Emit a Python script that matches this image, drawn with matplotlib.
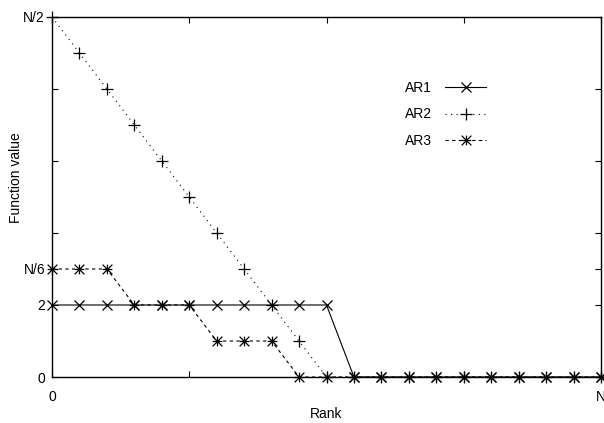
import matplotlib
matplotlib.use("Agg")
import matplotlib.pyplot as plt
from matplotlib.path import Path

# ── Data ──────────────────────────────────────────────────────────────────────
rank = list(range(21))
ar1 = [2, 2, 2, 2, 2, 2, 2, 2, 2, 2, 2, 0, 0, 0, 0, 0, 0, 0, 0, 0, 0]
ar2 = [10, 9, 8, 7, 6, 5, 4, 3, 2, 1, 0, 0, 0, 0, 0, 0, 0, 0, 0, 0, 0]
ar3 = [3, 3, 3, 2, 2, 2, 1, 1, 1, 0, 0, 0, 0, 0, 0, 0, 0, 0, 0, 0, 0]

x_ticks = [0, 5, 10, 15, 20]
x_tick_labels = ["0", "", "", "", "N"]
y_ticks = [0, 2, 3, 4, 6, 8, 10]
y_tick_labels = ["0", "2", "N/6", "", "", "", "N/2"]

# gnuplot-style asterisk: + and x overlaid
star = Path(
    [(-1, 0), (1, 0), (0, -1), (0, 1), (-1, -1), (1, 1), (-1, 1), (1, -1)],
    [Path.MOVETO, Path.LINETO] * 4,
)

plt.rcParams["font.family"] = ["Liberation Sans", "DejaVu Sans"]
plt.rcParams["font.size"] = 10

fig = plt.figure(figsize=(6.04, 4.23), dpi=100)
ax = fig.add_axes([52 / 604, 46 / 423, 549 / 604, 360 / 423])

ax.plot(rank, ar1, color="black", linewidth=0.8, marker="x", markersize=7,
        markeredgewidth=0.9, label="AR1", clip_on=False)
ax.plot(rank, ar2, color="black", linewidth=0.8, linestyle=(0, (1, 4)),
        marker="+", markersize=8, markeredgewidth=0.9, label="AR2", clip_on=False)
ax.plot(rank, ar3, color="black", linewidth=0.8, linestyle=(0, (3, 3)),
        marker=star, markersize=7, markeredgewidth=0.9, label="AR3", clip_on=False)

ax.set_xlim(0, 20)
ax.set_ylim(0, 10)
ax.set_xticks(x_ticks, x_tick_labels)
ax.set_yticks(y_ticks, y_tick_labels)
ax.tick_params(direction="in", top=True, right=True, length=4, width=0.8)
ax.tick_params(axis="x", pad=9)
ax.tick_params(axis="y", pad=5)
for s in ax.spines.values():
    s.set_linewidth(1.0)

ax.set_xlabel("Rank")
ax.xaxis.set_label_coords(0.5, -0.083)
ax.set_ylabel("Function value")
ax.yaxis.set_label_coords(-0.053, 0.553)

ax.legend(loc="upper left", bbox_to_anchor=(0.633, 0.838), frameon=False,
          markerfirst=False, numpoints=1, handlelength=2.95,
          handletextpad=0.93, labelspacing=0.9, borderaxespad=0)

fig.savefig("out.png", dpi=100)
